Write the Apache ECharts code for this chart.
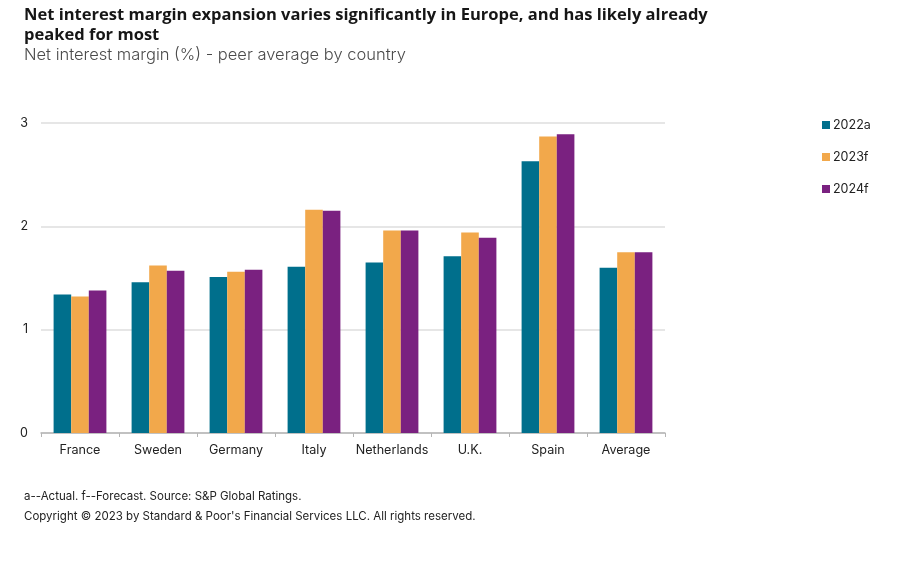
<!DOCTYPE html>
<html>
<head>
<meta charset="utf-8">
<title>Net interest margin</title>
<script src="https://cdn.jsdelivr.net/npm/echarts@6/dist/echarts.min.js"></script>
<style>
  html, body { margin: 0; padding: 0; background: #fff; }
  #chart { width: 900px; height: 583px; }
</style>
</head>
<body>
<div id="chart"></div>
<script>
const countries = ['France', 'Sweden', 'Germany', 'Italy', 'Netherlands', 'U.K.', 'Spain', 'Average'];
const values2022a = [1.34, 1.46, 1.51, 1.61, 1.65, 1.71, 2.63, 1.60];
const values2023f = [1.32, 1.62, 1.56, 2.16, 1.96, 1.94, 2.87, 1.75];
const values2024f = [1.38, 1.57, 1.58, 2.15, 1.96, 1.89, 2.89, 1.75];
const yTicks = [0, 1, 2, 3];

const FONT = 'Inter, "Noto Sans", sans-serif';
const TEXT = '#222222';

function makeSeries(name, data, color) {
  return {
    name: name,
    type: 'bar',
    data: data,
    barWidth: 17.6,
    barGap: 0,
    itemStyle: { color: color },
    emphasis: { disabled: true }
  };
}

const chart = echarts.init(document.getElementById('chart'), null, { renderer: 'canvas' });
chart.setOption({
  animation: false,
  backgroundColor: '#ffffff',
  textStyle: { fontFamily: FONT },
  title: [
    {
      text: 'Net interest margin expansion varies significantly in Europe, and has likely already\npeaked for most',
      left: 19, top: 0,
      textStyle: { fontFamily: '"Open Sans", sans-serif', fontSize: 16.55, fontWeight: 700, color: '#161616', lineHeight: 20 }
    },
    {
      text: 'Net interest margin (%) - peer average by country',
      left: 19, top: 40,
      textStyle: { fontFamily: FONT, fontSize: 16.5, fontWeight: 300, color: '#4a4a4a', lineHeight: 20 }
    },
    {
      text: 'a--Actual. f--Forecast. Source: S&P Global Ratings.',
      left: 19, top: 484,
      textStyle: { fontFamily: FONT, fontSize: 11.5, fontWeight: 400, color: TEXT, lineHeight: 15 }
    },
    {
      text: 'Copyright © 2023 by Standard & Poor\'s Financial Services LLC. All rights reserved.',
      left: 19, top: 504,
      textStyle: { fontFamily: FONT, fontSize: 11.5, fontWeight: 400, color: TEXT, lineHeight: 15 }
    }
  ],
  legend: {
    orient: 'vertical',
    left: 817,
    top: 113,
    itemWidth: 8,
    itemHeight: 8,
    itemGap: 18,
    icon: 'rect',
    selectedMode: false,
    textStyle: { fontFamily: FONT, fontSize: 12.5, color: TEXT, padding: [0, 0, 0, -2], lineHeight: 14 }
  },
  grid: { left: 41, right: 235, top: 123, bottom: 150, containLabel: false },
  xAxis: {
    type: 'category',
    data: countries,
    axisLine: { lineStyle: { color: '#b5b5b5', width: 1.5 } },
    axisTick: { show: true, alignWithLabel: false, length: 4, lineStyle: { color: '#b5b5b5', width: 1 } },
    axisLabel: { color: TEXT, fontSize: 12.6, margin: 11, interval: 0, fontFamily: FONT }
  },
  yAxis: {
    type: 'value',
    min: yTicks[0],
    max: yTicks[yTicks.length - 1],
    interval: 1,
    axisLine: { show: false },
    axisTick: { show: false },
    axisLabel: { color: TEXT, fontSize: 12.5, margin: 13, fontFamily: FONT },
    splitLine: { lineStyle: { color: '#dedede', width: 1.5 } }
  },
  series: [
    makeSeries('2022a', values2022a, '#006f8c'),
    makeSeries('2023f', values2023f, '#f2a84b'),
    makeSeries('2024f', values2024f, '#7a2180')
  ]
});
</script>
</body>
</html>
